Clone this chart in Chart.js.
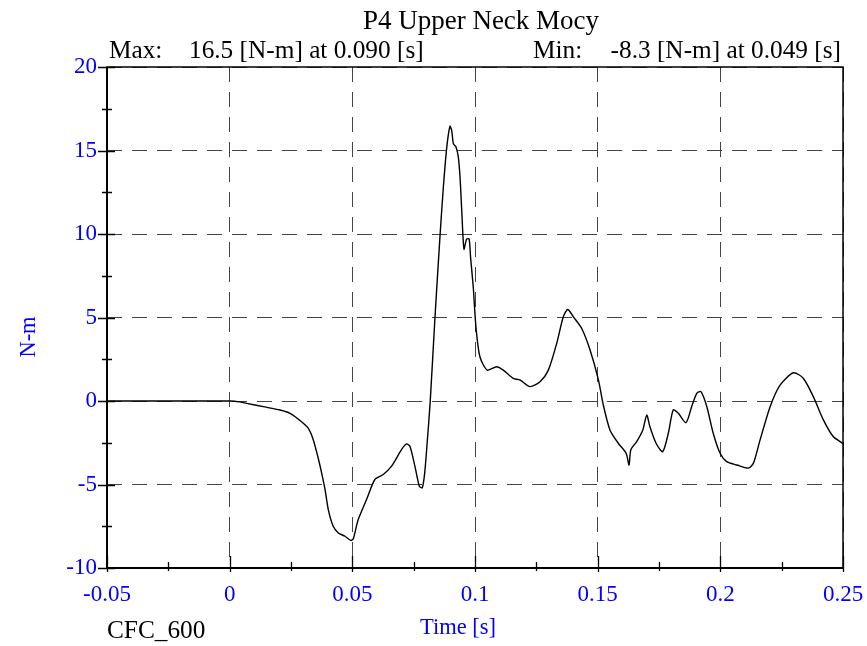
<!DOCTYPE html>
<html>
<head>
<meta charset="utf-8">
<script src="https://cdn.jsdelivr.net/npm/chart.js@4"></script>
<style>
  html, body { margin: 0; padding: 0; background: #fff; }
  #wrap { width: 867px; height: 646px; }
</style>
</head>
<body>
<div id="wrap"><canvas id="neckChart"></canvas></div>
<script>
// time [s] and moment [N-m]
const times = [
  -0.05, -0.03, -0.01, 0.0, 0.004, 0.0069, 0.0137, 0.0205, 0.0246, 0.0293,
  0.032, 0.0341, 0.0361, 0.0375, 0.0389, 0.0402, 0.0422, 0.0443, 0.047, 0.0494,
  0.0504, 0.0524, 0.0558, 0.0592, 0.0626, 0.066, 0.0701, 0.0721, 0.0735, 0.0755,
  0.0773, 0.0785, 0.0795, 0.0805, 0.0817, 0.0837, 0.0857, 0.0871, 0.0885, 0.0898,
  0.0905, 0.0912, 0.0923, 0.0932, 0.0939, 0.0946, 0.0955, 0.0966, 0.0976, 0.0982,
  0.0993, 0.1004, 0.102, 0.105, 0.1088, 0.1115, 0.1156, 0.1183, 0.1224, 0.1265,
  0.1299, 0.1333, 0.136, 0.1378, 0.1401, 0.1435, 0.1469, 0.1503, 0.1523, 0.155,
  0.1584, 0.1616, 0.1628, 0.1635, 0.1659, 0.1684, 0.17, 0.1713, 0.1738, 0.1765,
  0.1788, 0.1808, 0.1829, 0.186, 0.1883, 0.1904, 0.1921, 0.1945, 0.1971, 0.1999,
  0.2026, 0.2067, 0.2114, 0.2135, 0.2162, 0.2203, 0.2244, 0.2298, 0.2338, 0.2379,
  0.242, 0.246, 0.25
];
const moment = [
  0, 0, 0, 0, -0.05, -0.14, -0.34, -0.54, -0.74, -1.24,
  -1.63, -2.33, -3.43, -4.32, -5.32, -6.5, -7.5, -7.9, -8.1, -8.35,
  -8.25, -7.1, -5.9, -4.7, -4.4, -3.9, -2.9, -2.57, -2.73, -3.9,
  -5.1, -5.2, -4.3, -2.5, -0.14, 5.04, 9.8, 12.8, 15.2, 16.45,
  16.2, 15.4, 15.2, 14.6, 13.4, 11.4, 9.1, 9.7, 9.7, 8.6,
  6.8, 4.4, 2.65, 1.85, 2.05, 1.85, 1.36, 1.26, 0.86, 1.15,
  1.85, 3.45, 5.04, 5.48, 5.04, 4.34, 3.05, 1.26, -0.24, -1.73,
  -2.53, -3.13, -3.83, -2.93, -2.43, -1.73, -0.84, -1.54, -2.53, -3.03,
  -1.93, -0.54, -0.74, -1.3, -0.34, 0.46, 0.56, -0.34, -1.93, -3.13,
  -3.63, -3.83, -4.02, -3.72, -2.33, -0.34, 0.96, 1.69, 1.36, 0.26,
  -1.13, -2.13, -2.55
];
const xTicks = [-0.05, 0, 0.05, 0.1, 0.15, 0.2, 0.25];
const yTicks = [-10, -5, 0, 5, 10, 15, 20];

const serif = "'Liberation Serif', 'Times New Roman', serif";
const blue = '#0000ff';

// frame, inner tick marks and the header/footer texts
const framePlugin = {
  id: 'frame',
  afterDraw(chart) {
    const { ctx, chartArea: a, scales: { x, y } } = chart;
    ctx.save();
    ctx.strokeStyle = '#000';
    ctx.lineWidth = 1.5;
    ctx.strokeRect(a.left, a.top, a.right - a.left, a.bottom - a.top);
    ctx.lineWidth = 2;
    ctx.beginPath();
    ctx.moveTo(a.left, a.top);
    ctx.lineTo(a.left, a.bottom);
    ctx.lineTo(a.right, a.bottom);
    ctx.stroke();

    ctx.lineWidth = 1.3;
    ctx.beginPath();
    for (let v = -0.05; v <= 0.2501; v += 0.025) {
      const px = Math.round(x.getPixelForValue(v)) + 0.5;
      const major = Math.abs(v / 0.05 - Math.round(v / 0.05)) < 1e-6;
      ctx.moveTo(px, a.bottom - (major ? 12 : 6));
      ctx.lineTo(px, a.bottom + (major ? 4 : 3));
    }
    for (let v = -10; v <= 20; v += 2.5) {
      const py = Math.round(y.getPixelForValue(v)) + 0.5;
      const major = v % 5 === 0;
      ctx.moveTo(a.left - (major ? 9 : 5), py);
      ctx.lineTo(a.left + (major ? 8 : 5), py);
    }
    ctx.stroke();

    ctx.fillStyle = '#000';
    ctx.textBaseline = 'alphabetic';
    ctx.font = '27px ' + serif;
    ctx.textAlign = 'center';
    ctx.fillText('P4 Upper Neck Mocy', 481, 29);

    ctx.font = '25.3px ' + serif;
    ctx.textAlign = 'left';
    ctx.fillText('Max:', 109, 58);
    ctx.fillText('16.5 [N-m] at 0.090 [s]', 189, 58);
    ctx.fillText('Min:', 533, 58);
    ctx.textAlign = 'right';
    ctx.fillText('-8.3 [N-m] at 0.049 [s]', 841, 58);

    ctx.textAlign = 'left';
    ctx.fillText('CFC_600', 107, 638);

    ctx.fillStyle = blue;
    ctx.font = '22.5px ' + serif;
    ctx.textAlign = 'center';
    ctx.fillText('Time [s]', 458, 634);
    ctx.translate(35, 337);
    ctx.rotate(-Math.PI / 2);
    ctx.fillText('N-m', 0, 0);
    ctx.restore();
  }
};

new Chart(document.getElementById('neckChart'), {
  type: 'line',
  data: {
    datasets: [{
      data: times.map((t, i) => ({ x: t, y: moment[i] })),
      borderColor: '#000',
      borderWidth: 1.4,
      pointRadius: 0,
      tension: 0.25,
      fill: false
    }]
  },
  options: {
    responsive: true,
    maintainAspectRatio: false,
    animation: false,
    layout: { padding: { top: 67, right: 24, left: 0, bottom: 0 } },
    plugins: {
      legend: { display: false },
      tooltip: { enabled: false },
      title: { display: false }
    },
    scales: {
      x: {
        type: 'linear',
        min: -0.05,
        max: 0.25,
        afterFit: s => { s.height = 78; s.paddingLeft = 0; s.paddingRight = 0; },
        afterBuildTicks: s => { s.ticks = xTicks.map(v => ({ value: v })); },
        ticks: {
          color: blue,
          font: { family: serif, size: 23 },
          padding: 13,
          maxRotation: 0,
          callback: v => String(parseFloat(v.toFixed(3)))
        },
        grid: { color: '#444', lineWidth: 1, drawTicks: false },
        border: { display: false, dash: [15, 10] }
      },
      y: {
        min: -10,
        max: 20,
        afterFit: s => { s.width = 107; s.paddingTop = 0; s.paddingBottom = 0; },
        afterBuildTicks: s => { s.ticks = yTicks.map(v => ({ value: v })); },
        ticks: {
          color: blue,
          font: { family: serif, size: 23 },
          padding: 10
        },
        grid: { color: '#444', lineWidth: 1, drawTicks: false },
        border: { display: false, dash: [15, 10] }
      }
    }
  },
  plugins: [framePlugin]
});
</script>
</body>
</html>
